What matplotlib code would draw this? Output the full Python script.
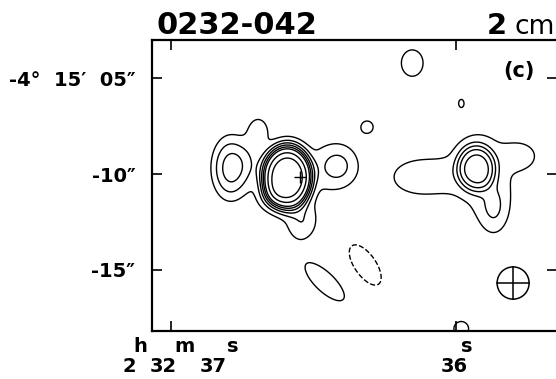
import numpy as np
import matplotlib
matplotlib.use("Agg")
import matplotlib.pyplot as plt
from matplotlib.patches import Ellipse

# source model: centre RA (s), Dec offset ("), peak, sizes ("), angle, shape power
comp_ra  = [36.593, 36.582, 36.793, 36.695, 36.414, 36.540, 36.653, 36.716,
            35.930, 35.916, 36.133, 35.768, 35.867,
            36.154, 36.312, 35.982, 36.460, 36.319, 35.982]
comp_dec = [-10.16, -10.21, -9.69, -7.70, -9.58, -12.52, -11.20, -9.27,
            -9.69, -9.79, -10.16, -9.06, -11.875,
            -4.22, -7.55, -6.30, -15.63, -14.74, -18.07]
comp_amp = [10.4, 1.2, 3.3, 1.4, 2.3, 1.6, 1.2, 1.0,
            3.9, 1.6, 1.8, 1.3, 1.6,
            1.5, 1.3, 1.015, 1.6, -1.6, 1.4]
comp_sa  = [1.05, 1.31, 0.71, 0.42, 0.79, 0.58, 0.52, 0.55,
            0.864, 1.47, 1.15, 0.63, 0.55,
            0.63, 0.42, 0.21, 1.36, 1.26, 0.47]
comp_sb  = [1.36, 1.57, 1.20, 0.55, 0.84, 0.73, 0.52, 0.90,
            1.026, 1.78, 0.73, 0.52, 0.94,
            0.76, 0.42, 0.31, 0.52, 0.58, 0.47]
comp_ang = [0, 0, 0, 0, 0, 0, 0, 0,
            0, 0, 0, 0, 0,
            0, 0, 0, -43, -55, 0]
comp_pow = [4, 2, 2.5, 2, 2, 2, 2, 2,
            4, 2, 2, 2, 2,
            2, 2, 2, 2, 2, 2]

levels = [-1, 1, 2, 3, 4, 5, 6, 8, 10]

xticks = [37, 36]
# (text, x offset px, raised)
xtick_parts = [[("2", -49, 0), ("h", -38, 1), ("32", -21, 0), ("m", 3, 1), ("37", 29, 0), ("s", 56, 1)],
               [("36", -15, 0), ("s", 5, 1)]]
yticks = [-5, -10, -15]
yticklabels = ["-4°  15′  05″", "-10″", "-15″"]

optical_ra, optical_dec = 36.547, -10.16
beam_ra, beam_dec, beam_r = 35.800, -15.68, 0.84

ARCSEC_PER_S = 15 * np.cos(np.radians(4.25))

ra = np.linspace(35.60, 37.10, 500)
dec = np.linspace(-18.6, -2.6, 400)
RA, DEC = np.meshgrid(ra, dec)
field = np.zeros_like(RA)
for r0, d0, a, sa, sb, ang, p in zip(comp_ra, comp_dec, comp_amp, comp_sa, comp_sb,
                                      comp_ang, comp_pow):
    u = (r0 - RA) * ARCSEC_PER_S
    v = DEC - d0
    t = np.radians(ang)
    pa = u * np.cos(t) + v * np.sin(t)
    pb = -u * np.sin(t) + v * np.cos(t)
    rho2 = (pa / sa) ** 2 + (pb / sb) ** 2
    field += a * np.exp(-0.5 * rho2 ** (p / 2))

fig = plt.figure(figsize=(5.56, 3.79), dpi=100)
ax = fig.add_axes([0.2734, 0.1266, 0.7284, 0.7678])

ax.contour(RA, DEC, field, levels=levels, colors="k", linewidths=1.0)
ax.plot(optical_ra, optical_dec, marker="+", color="k", markersize=9, mew=1.0)

bw = 2 * beam_r / ARCSEC_PER_S
ax.add_patch(Ellipse((beam_ra, beam_dec), bw, 2 * beam_r, fill=False, color="k", lw=1.1))
ax.plot([beam_ra - bw / 2, beam_ra + bw / 2], [beam_dec, beam_dec], color="k", lw=1.1)
ax.plot([beam_ra, beam_ra], [beam_dec - beam_r, beam_dec + beam_r], color="k", lw=1.1)

ax.set_xlim(37.067, 35.646)
ax.set_ylim(-18.18, -3.02)
ax.set_xticks(xticks)
ax.set_xticklabels([])
for tick, parts in zip(xticks, xtick_parts):
    for txt, dx, up in parts:
        ax.annotate(txt, xy=(tick, 0), xycoords=("data", "axes fraction"),
                    xytext=(dx, -21 if up else -41), textcoords="offset pixels",
                    ha="left", va="baseline", fontsize=14, fontweight="bold")
ax.set_yticks(yticks)
ax.set_yticklabels(yticklabels, fontsize=14, fontweight="bold")
ax.tick_params(direction="in", length=7, width=1.2, top=True, right=True)
ax.tick_params(axis="y", pad=12)
for s in ax.spines.values():
    s.set_linewidth(1.6)

fig.text(157 / 556, 1 - 34 / 379, "0232-042", fontsize=22, fontweight="bold", ha="left", va="baseline")
fig.text(507 / 556, 1 - 34 / 379, "2", fontsize=21, fontweight="bold", ha="right", va="baseline")
fig.text(555 / 556, 1 - 34 / 379, "cm", fontsize=19, ha="right", va="baseline")
fig.text(519 / 556, 1 - 71 / 379, "(c)", fontsize=15, fontweight="bold", ha="center", va="center")

fig.savefig("out.png", dpi=100)
